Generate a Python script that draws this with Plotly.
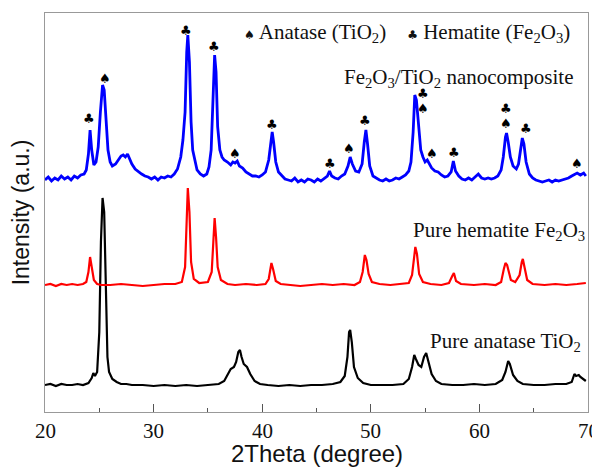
import plotly.graph_objects as go

# ---------------- data (2theta in degrees, intensity in arbitrary offset units) ----------------
comp_x = [20.0, 20.3, 20.6, 20.9, 21.2, 21.5, 21.8, 22.1, 22.4, 22.7, 23.0, 23.3, 23.6, 23.8, 24.0, 24.15, 24.3, 24.5, 24.7, 24.9,
          25.1, 25.3, 25.45, 25.6, 25.8, 26.0, 26.2, 26.5, 26.8, 27.0, 27.2, 27.4, 27.6, 27.8, 28.0, 28.3, 28.6, 28.9, 29.2, 29.5,
          29.8, 30.1, 30.4, 30.7, 31.0, 31.3, 31.6, 31.9, 32.2, 32.5, 32.7, 32.9, 33.05, 33.15, 33.3, 33.45, 33.6, 33.8, 34.0, 34.3,
          34.6, 34.9, 35.1, 35.3, 35.5, 35.62, 35.75, 35.9, 36.1, 36.3, 36.5, 36.8, 37.1, 37.3, 37.5, 37.7, 37.9, 38.2, 38.5, 38.8,
          39.1, 39.4, 39.7, 40.0, 40.3, 40.6, 40.8, 40.92, 41.05, 41.25, 41.5, 41.8, 42.1, 42.4, 42.7, 43.0, 43.3, 43.6, 43.9, 44.2,
          44.5, 44.8, 45.1, 45.4, 45.7, 46.0, 46.2, 46.4, 46.7, 47.0, 47.3, 47.6, 47.9, 48.1, 48.3, 48.6, 48.9, 49.2, 49.4, 49.55,
          49.7, 49.9, 50.2, 50.5, 50.8, 51.1, 51.4, 51.7, 52.0, 52.3, 52.6, 52.9, 53.2, 53.5, 53.7, 53.9, 54.05, 54.2, 54.4, 54.6,
          54.8, 55.0, 55.2, 55.4, 55.6, 55.9, 56.2, 56.5, 56.8, 57.1, 57.4, 57.6, 57.8, 58.1, 58.4, 58.7, 59.0, 59.3, 59.6, 59.9,
          60.2, 60.5, 60.8, 61.1, 61.4, 61.7, 62.0, 62.2, 62.4, 62.5, 62.65, 62.85, 63.1, 63.4, 63.6, 63.8, 63.95, 64.1, 64.3, 64.6,
          64.9, 65.2, 65.5, 65.8, 66.1, 66.4, 66.7, 67.0, 67.3, 67.6, 67.9, 68.2, 68.5, 68.8, 69.0, 69.3, 69.6, 69.8]
comp_y = [232, 235, 231, 234, 232, 236, 233, 235, 232, 236, 234, 237, 238, 242, 258, 282, 262, 247, 250, 265,
          300, 327, 322, 290, 262, 250, 246, 248, 253, 256, 257, 255, 258, 252, 248, 243, 240, 238, 236, 235,
          233, 235, 232, 235, 234, 236, 235, 238, 243, 255, 272, 300, 360, 377, 350, 290, 262, 250, 242, 238,
          236, 238, 245, 262, 320, 357, 340, 285, 262, 255, 252, 250, 247, 250, 249, 251, 246, 244, 240, 238,
          236, 236, 235, 237, 240, 252, 272, 280, 270, 250, 240, 236, 233, 232, 231, 234, 230, 232, 230, 233,
          232, 230, 233, 231, 234, 236, 241, 236, 234, 233, 236, 238, 246, 255, 248, 241, 240, 248, 270, 282,
          268, 246, 236, 234, 232, 231, 233, 231, 232, 234, 233, 235, 237, 241, 250, 280, 317, 312, 285, 262,
          255, 250, 252, 248, 244, 241, 240, 237, 235, 236, 240, 251, 241, 236, 233, 232, 234, 232, 235, 238,
          234, 233, 234, 233, 234, 236, 242, 255, 275, 279, 270, 255, 246, 243, 248, 262, 274, 268, 250, 238,
          234, 232, 231, 230, 231, 232, 230, 232, 231, 232, 233, 234, 236, 238, 239, 237, 239, 236]

hem_x = [20.0, 20.5, 21.0, 21.5, 22.0, 22.5, 23.0, 23.5, 23.8, 24.0, 24.15, 24.3, 24.5, 24.8, 25.2, 26.0, 27.0, 28.0, 29.0, 30.0,
         31.0, 32.0, 32.6, 32.9, 33.05, 33.15, 33.3, 33.45, 33.7, 34.2, 35.0, 35.35, 35.5, 35.62, 35.75, 35.9, 36.2, 36.8, 37.5, 38.5,
         39.5, 40.3, 40.6, 40.85, 41.0, 41.25, 41.7, 42.5, 43.5, 44.5, 45.5, 46.5, 47.5, 48.5, 49.0, 49.25, 49.45, 49.6, 49.8, 50.1,
         50.8, 51.8, 52.8, 53.5, 53.8, 54.0, 54.1, 54.25, 54.45, 54.8, 55.5, 56.5, 57.2, 57.5, 57.65, 57.85, 58.3, 59.5, 60.5, 61.5,
         62.0, 62.25, 62.4, 62.55, 62.7, 62.9, 63.3, 63.7, 63.9, 64.0, 64.15, 64.4, 64.9, 66.0, 67.0, 68.0, 69.0, 69.8]
hem_y = [127, 128, 126, 128, 127, 128, 127, 128, 130, 140, 155, 146, 132, 128, 127, 127, 128, 127, 126, 127,
         128, 128, 130, 145, 200, 224, 200, 150, 133, 129, 130, 140, 170, 194, 175, 145, 132, 128, 127, 128,
         127, 128, 133, 149, 143, 131, 128, 127, 126, 127, 128, 127, 128, 127, 130, 140, 157, 152, 138, 130,
         128, 127, 128, 129, 137, 160, 165, 158, 138, 130, 128, 127, 129, 136, 139, 131, 128, 127, 128, 127,
         130, 143, 149, 147, 140, 132, 130, 137, 150, 153, 145, 132, 128, 127, 128, 127, 128, 129]

ana_x = [20.0, 20.5, 21.0, 21.5, 22.0, 22.5, 23.0, 23.5, 24.0, 24.3, 24.45, 24.6, 24.8, 25.0, 25.15, 25.3, 25.45, 25.6, 25.75, 25.9,
         26.2, 26.6, 27.0, 27.5, 28.0, 29.0, 30.0, 31.0, 32.0, 33.0, 34.0, 35.0, 36.0, 36.5, 36.9, 37.1, 37.4, 37.6, 37.8, 37.95,
         38.1, 38.3, 38.6, 38.9, 39.3, 39.8, 40.5, 41.5, 42.5, 43.5, 44.5, 45.5, 46.5, 47.2, 47.6, 47.85, 48.0, 48.1, 48.25, 48.45,
         48.8, 49.3, 50.0, 51.0, 52.0, 53.0, 53.5, 53.8, 54.0, 54.15, 54.4, 54.65, 54.9, 55.1, 55.3, 55.6, 56.0, 56.5, 57.5, 58.5,
         59.5, 60.5, 61.5, 62.1, 62.4, 62.65, 62.8, 63.1, 63.5, 64.0, 65.0, 66.0, 67.0, 68.0, 68.5, 68.75, 68.9, 69.15, 69.3, 69.6,
         69.8]
ana_y = [27, 28, 26, 28, 27, 27, 28, 27, 29, 34, 39, 36, 40, 80, 170, 214, 200, 110, 55, 40,
         33, 30, 28, 28, 27, 27, 26, 27, 26, 27, 26, 27, 28, 31, 40, 43, 45, 50, 60, 62,
         55, 48, 45, 38, 31, 28, 27, 26, 27, 26, 27, 27, 28, 30, 36, 55, 80, 82, 70, 45,
         34, 29, 27, 27, 27, 28, 33, 45, 57, 53, 47, 45, 55, 59, 50, 38, 31, 28, 27, 27,
         28, 27, 28, 32, 40, 51, 48, 37, 31, 28, 27, 27, 28, 28, 30, 38, 36, 37, 35, 33,
         31]

# peak identification symbols (2theta, height, phase)
label_x = [24.05, 25.5, 33.0, 35.6, 37.5, 40.9, 46.2, 47.95, 49.45, 54.8, 54.8, 55.65, 57.7, 62.45, 62.45, 64.25, 69.0]
label_y = [294, 334, 382, 366, 259, 288, 249, 264, 292, 319, 304, 259, 260, 304, 289, 284, 249]
label_s = ["♣", "♠", "♣", "♣", "♠", "♣", "♣", "♠", "♣", "♣", "♠", "♠", "♣", "♣", "♠", "♣", "♠"]

x_ticks = [20, 30, 40, 50, 60, 70]
x_tick_labels = ["20", "30", "40", "50", "60", "70"]

SERIF = "Liberation Serif"
SANS = "Liberation Sans"

fig = go.Figure()
fig.add_trace(go.Scatter(x=ana_x, y=ana_y, mode="lines", line=dict(color="#000000", width=2.2), showlegend=False))
fig.add_trace(go.Scatter(x=hem_x, y=hem_y, mode="lines", line=dict(color="#ff0000", width=2.2), showlegend=False))
fig.add_trace(go.Scatter(x=comp_x, y=comp_y, mode="lines", line=dict(color="#0000ff", width=2.8), showlegend=False))

annotations = []
for x, y, s in zip(label_x, label_y, label_s):
    annotations.append(dict(x=x, y=y, xref="x", yref="y", text=s, showarrow=False,
                            font=dict(family="DejaVu Sans", size=13, color="black"),
                            xanchor="center", yanchor="middle"))

# serif tick labels placed on the x scale
for t, lab in zip(x_ticks, x_tick_labels):
    annotations.append(dict(x=t, y=-0.047, xref="x", yref="paper", text=lab, showarrow=False,
                            font=dict(family=SERIF, size=21, color="#111111"),
                            xanchor="center", yanchor="middle"))

text_font = dict(family=SERIF, size=21, color="#111111")
annotations += [
    dict(x=0.9705, y=0.9495, xref="paper", yref="paper",
         text="<span style='font-family:DejaVu Sans;font-size:12px'>♠</span> Anatase (TiO<sub>2</sub>)"
              "    <span style='font-family:DejaVu Sans;font-size:12px'>♣</span> Hematite (Fe<sub>2</sub>O<sub>3</sub>)",
         showarrow=False, xanchor="right", yanchor="middle", font=text_font),
    dict(x=0.978, y=0.837, xref="paper", yref="paper",
         text="Fe<sub>2</sub>O<sub>3</sub>/TiO<sub>2</sub> nanocomposite",
         showarrow=False, xanchor="right", yanchor="middle", font=text_font),
    dict(x=0.998, y=0.4525, xref="paper", yref="paper",
         text="Pure hematite Fe<sub>2</sub>O<sub>3</sub>",
         showarrow=False, xanchor="right", yanchor="middle", font=text_font),
    dict(x=0.991, y=0.175, xref="paper", yref="paper",
         text="Pure anatase TiO<sub>2</sub>",
         showarrow=False, xanchor="right", yanchor="middle", font=text_font),
    # axis titles
    dict(x=0.5, y=-0.103, xref="paper", yref="paper", text="2Theta (degree)", showarrow=False,
         xanchor="center", yanchor="middle", font=dict(family=SANS, size=24, color="#111111")),
    dict(x=-0.0445, y=0.5, xref="paper", yref="paper", text="Intensity (a.u.)", showarrow=False, textangle=-90,
         xanchor="center", yanchor="middle", font=dict(family=SANS, size=23, color="#111111")),
]

# the page body has an 8px default margin, so the figure is 8px smaller than the window
fig.update_layout(
    width=592, height=461,
    margin=dict(l=37, r=12, t=5, b=57),
    paper_bgcolor="white", plot_bgcolor="white",
    font=dict(family=SERIF, size=21, color="#111111"),
    annotations=annotations,
    xaxis=dict(range=[20, 70], tickmode="array", tickvals=x_ticks, showticklabels=False,
               ticks="inside", ticklen=8, tickwidth=1, tickcolor="#555555",
               minor=dict(ticks="inside", ticklen=4, tickwidth=1, tickcolor="#555555", dtick=5),
               showline=True, linecolor="#999999", linewidth=1.2, mirror=True, showgrid=False, zeroline=False,
               automargin=False),
    yaxis=dict(range=[0, 399], showticklabels=False, ticks="", showline=True, linecolor="#999999",
               linewidth=1.2, mirror=True, showgrid=False, zeroline=False, automargin=False),
)

fig.write_html("out.html")
